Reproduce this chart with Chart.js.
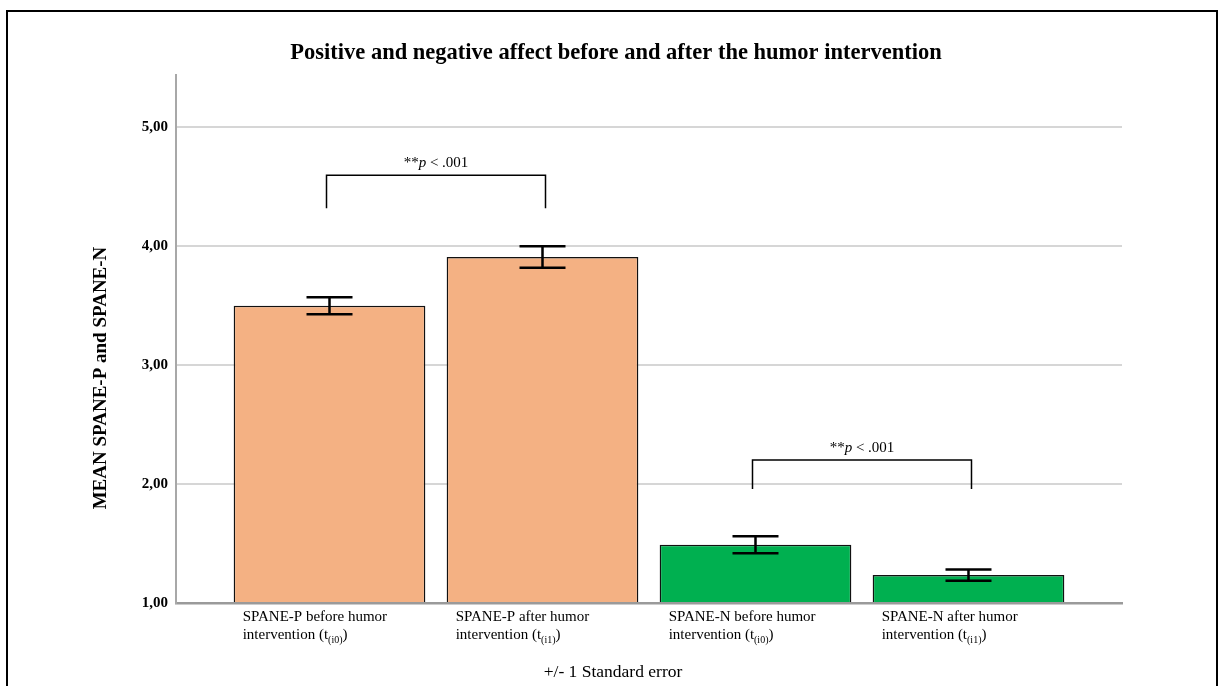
<!DOCTYPE html>
<html>
<head>
<meta charset="utf-8">
<script src="https://cdn.jsdelivr.net/npm/chart.js@4.4.0/dist/chart.umd.min.js"></script>
<style>
  html, body { margin: 0; padding: 0; background: #fff; }
  #wrap { width: 1218px; height: 686px; }
</style>
</head>
<body>
<div id="wrap"><canvas id="affectChart" width="1218" height="686"></canvas></div>
<script>
// Data
const labelLine1 = [
  "SPANE-P before humor",
  "SPANE-P after humor",
  "SPANE-N before humor",
  "SPANE-N after humor",
];
const labelSub = ["(i0)", "(i1)", "(i0)", "(i1)"];
const means = [3.50, 3.91, 1.49, 1.235];
const stdErrors = [0.072, 0.09, 0.072, 0.047];
const yTicks = [1, 2, 3, 4, 5];
const xTicks = [0, 1, 2, 3];

// significance brackets: [from bar, to bar, bracket level, leg end]
const brackets = [
  [0, 1, 4.597, 4.32],
  [2, 3, 2.202, 1.958],
];

const orange = "#F4B183";
const green = "#00B050";
const serif = "'Liberation Serif', 'Times New Roman', serif";
const xMin = -0.7207;
const xMax = 3.7207;

// Extra drawing: frame, error bars, brackets, labels, axis title
const extrasPlugin = {
  id: "extras",
  afterDatasetsDraw(chart) {
    const ctx = chart.ctx;
    const x = chart.scales.x;
    const y = chart.scales.y;
    const meta = chart.getDatasetMeta(0);
    ctx.save();

    // error bars
    ctx.strokeStyle = "#000";
    ctx.lineWidth = 2.5;
    means.forEach((m, i) => {
      const cx = x.getPixelForValue(i);
      const top = y.getPixelForValue(m + stdErrors[i]);
      const bot = y.getPixelForValue(m - stdErrors[i]);
      ctx.beginPath();
      ctx.moveTo(cx, top);
      ctx.lineTo(cx, bot);
      ctx.moveTo(cx - 23, top);
      ctx.lineTo(cx + 23, top);
      ctx.moveTo(cx - 23, bot);
      ctx.lineTo(cx + 23, bot);
      ctx.stroke();
    });

    // brackets with p-values
    ctx.lineWidth = 1.5;
    brackets.forEach(([a, b, level, leg]) => {
      const x1 = x.getPixelForValue(a) - 3;
      const x2 = x.getPixelForValue(b) + 3;
      const yl = y.getPixelForValue(level);
      const yg = y.getPixelForValue(leg);
      ctx.beginPath();
      ctx.moveTo(x1, yg);
      ctx.lineTo(x1, yl);
      ctx.lineTo(x2, yl);
      ctx.lineTo(x2, yg);
      ctx.stroke();

      const parts = [
        ["**", "15px " + serif],
        ["p", "italic 15px " + serif],
        [" < .001", "15px " + serif],
      ];
      let w = 0;
      parts.forEach((p) => { ctx.font = p[1]; w += ctx.measureText(p[0]).width; });
      let tx = (x1 + x2) / 2 - w / 2;
      ctx.fillStyle = "#000";
      ctx.textBaseline = "alphabetic";
      ctx.textAlign = "left";
      parts.forEach((p) => {
        ctx.font = p[1];
        ctx.fillText(p[0], tx, yl - 8);
        tx += ctx.measureText(p[0]).width;
      });
    });

    // category labels, left aligned under each bar
    ctx.fillStyle = "#000";
    ctx.textAlign = "left";
    ctx.textBaseline = "alphabetic";
    meta.data.forEach((bar, i) => {
      const left = bar.x - bar.width / 2 + 9;
      const base = x.bottom - 83 + 18;
      ctx.font = "15px " + serif;
      ctx.fillText(labelLine1[i], left, base);
      let tx = left;
      const line2 = "intervention (t";
      ctx.fillText(line2, tx, base + 18);
      tx += ctx.measureText(line2).width;
      ctx.font = "10px " + serif;
      ctx.fillText(labelSub[i], tx, base + 22);
      tx += ctx.measureText(labelSub[i]).width;
      ctx.font = "15px " + serif;
      ctx.fillText(")", tx, base + 18);
    });

    // caption under the axis
    ctx.textAlign = "center";
    ctx.font = "17.5px " + serif;
    ctx.fillText("+/- 1 Standard error", 613, 677);

    // y axis title
    ctx.save();
    ctx.translate(101, 378);
    ctx.rotate(-Math.PI / 2);
    ctx.font = "bold 19px " + serif;
    ctx.textBaseline = "middle";
    ctx.fillText("MEAN SPANE-P and SPANE-N", 0, 0);
    ctx.restore();

    // outer frame
    ctx.strokeStyle = "#000";
    ctx.lineWidth = 2;
    ctx.strokeRect(7, 11, 1210, 700);
    ctx.restore();
  },
};

new Chart(document.getElementById("affectChart").getContext("2d"), {
  type: "bar",
  data: {
    datasets: [
      {
        data: means.map((m, i) => ({ x: xTicks[i], y: m })),
        backgroundColor: [orange, orange, green, green],
        borderColor: "#111",
        borderWidth: 1.5,
        barPercentage: 0.9,
        categoryPercentage: 1,
        base: 1,
      },
    ],
  },
  options: {
    responsive: false,
    animation: false,
    layout: { padding: { left: 110, right: 96, top: 0, bottom: 0 } },
    plugins: {
      legend: { display: false },
      tooltip: { enabled: false },
      title: {
        display: true,
        text: "Positive and negative affect before and after the humor intervention",
        color: "#000",
        font: { family: serif, size: 22.5, weight: "bold" },
        padding: { top: 40, bottom: 8 },
      },
    },
    scales: {
      x: {
        type: "linear",
        bounds: "data",
        offset: false,
        min: xMin,
        max: xMax,
        afterBuildTicks(scale) {
          scale.ticks = xTicks.map((v) => ({ value: v }));
          scale.min = xMin;
          scale.max = xMax;
        },
        grid: { display: false, offset: false },
        ticks: { display: false },
        border: { color: "#9a9a9a", width: 2.5 },
        afterFit(scale) { scale.height = 83; },
      },
      y: {
        min: 1,
        max: 5.44,
        afterBuildTicks(scale) { scale.ticks = yTicks.map((v) => ({ value: v })); },
        ticks: {
          color: "#000",
          padding: 8,
          font: { family: serif, size: 15, weight: "bold" },
          callback: (v) => v.toFixed(2).replace(".", ","),
        },
        grid: { color: "#d6d6d6", lineWidth: 2, drawTicks: false },
        border: { color: "#a8a8a8", width: 2 },
        afterFit(scale) { scale.width = 66; },
      },
    },
  },
  plugins: [extrasPlugin],
});
</script>
</body>
</html>
